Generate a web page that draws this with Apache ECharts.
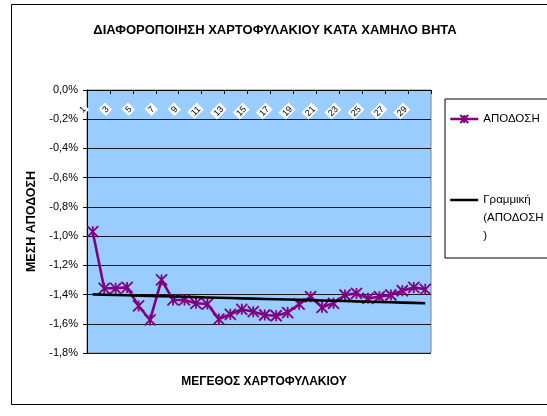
<!DOCTYPE html>
<html>
<head>
<meta charset="utf-8">
<script src="https://cdn.jsdelivr.net/npm/echarts@6/dist/echarts.min.js"></script>
<style>
  html, body { margin: 0; padding: 0; background: #fff; }
  #chart { width: 547px; height: 416px; }
</style>
</head>
<body>
<div id="chart"></div>
<script>
// Portfolio size (number of securities) on the category axis
const portfolioSize = [1, 2, 3, 4, 5, 6, 7, 8, 9, 10, 11, 12, 13, 14, 15,
                       16, 17, 18, 19, 20, 21, 22, 23, 24, 25, 26, 27, 28, 29, 30];
// Mean return (%) for each portfolio size
const meanReturn = [-0.970, -1.357, -1.357, -1.351, -1.478, -1.574, -1.300, -1.437, -1.437, -1.460,
                    -1.465, -1.568, -1.535, -1.501, -1.517, -1.540, -1.545, -1.523, -1.466, -1.415,
                    -1.487, -1.460, -1.403, -1.392, -1.426, -1.415, -1.403, -1.374, -1.351, -1.364];
// Value axis ticks (%)
const yTicks = { min: -1.8, max: 0, step: 0.2 };

const seriesName = 'ΑΠΟΔΟΣΗ';
const trendName = 'Γραμμική\n(ΑΠΟΔΟΣΗ\n)';

// Least-squares linear trend over the category index
function linearTrend(values) {
  const n = values.length;
  let sx = 0, sy = 0, sxx = 0, sxy = 0;
  values.forEach((v, i) => {
    const x = i + 1;
    sx += x; sy += v; sxx += x * x; sxy += x * v;
  });
  const slope = (n * sxy - sx * sy) / (n * sxx - sx * sx);
  const icpt = (sy - slope * sx) / n;
  return values.map((_, i) => +(icpt + slope * (i + 1)).toFixed(4));
}
const trend = linearTrend(meanReturn);

const FONT = '"Liberation Sans", Arial, sans-serif';
const chart = echarts.init(document.getElementById('chart'));

chart.setOption({
  backgroundColor: '#ffffff',
  animation: false,
  textStyle: { fontFamily: FONT },
  title: [
    {
      text: 'ΔΙΑΦΟΡΟΠΟΙΗΣΗ ΧΑΡΤΟΦΥΛΑΚΙΟΥ ΚΑΤΑ ΧΑΜΗΛΟ ΒΗΤΑ',
      left: 270, top: 19, textAlign: 'center',
      textStyle: { fontFamily: FONT, fontSize: 13, fontWeight: 'bold', color: '#000' }
    },
    {
      text: 'ΜΕΓΕΘΟΣ ΧΑΡΤΟΦΥΛΑΚΙΟΥ',
      left: 259, top: 371, textAlign: 'center',
      textStyle: { fontFamily: FONT, fontSize: 12, fontWeight: 'bold', color: '#000' }
    }
  ],
  graphic: [
    {
      type: 'rect', z: -1, silent: true,
      shape: { x: 11.5, y: 4.5, width: 600, height: 400 },
      style: { fill: 'none', stroke: '#000', lineWidth: 1 }
    }
  ],
  legend: {
    orient: 'vertical',
    left: 445, top: 99,
    padding: [11, 40, 13, 4],
    itemGap: 27,
    itemWidth: 28, itemHeight: 10,
    borderColor: '#000', borderWidth: 1,
    backgroundColor: '#fff',
    selectedMode: false,
    lineStyle: { width: 2.5 },
    textStyle: { fontFamily: FONT, fontSize: 11.5, color: '#000', lineHeight: 18 },
    // two blank lines keep the first text line level with the line sample
    formatter: name => (name === trendName ? '\n\n' + name : name),
    data: [
      { name: seriesName },
      { name: trendName, itemStyle: { color: 'rgba(0,0,0,0)', borderWidth: 0, opacity: 0 } }
    ]
  },
  grid: {
    left: 87, top: 90, width: 344, height: 263,
    show: true, backgroundColor: '#99CCFF', borderColor: '#808080', borderWidth: 1
  },
  xAxis: {
    type: 'category',
    position: 'top',
    data: portfolioSize,
    boundaryGap: true,
    axisLine: { show: true, lineStyle: { color: '#000', width: 1 } },
    axisTick: { show: true, inside: true, length: 4, interval: 1, lineStyle: { color: '#000' } },
    axisLabel: {
      interval: 1, inside: true, rotate: 45, margin: 9,
      align: 'right', verticalAlign: 'middle',
      formatter: v => '{t|' + v + '}{s|}',
      rich: {
        t: { fontFamily: FONT, fontSize: 9, color: '#000', backgroundColor: '#fff', padding: [1, 2, 0, 2] },
        s: { width: 10 }
      }
    },
    splitLine: { show: false }
  },
  yAxis: {
    type: 'value',
    min: yTicks.min, max: yTicks.max, interval: yTicks.step,
    name: 'ΜΕΣΗ ΑΠΟΔΟΣΗ',
    nameLocation: 'middle', nameGap: 46, nameRotate: 90,
    nameTextStyle: { fontFamily: FONT, fontSize: 12.5, fontWeight: 'bold', color: '#000' },
    axisLine: { show: true, lineStyle: { color: '#000', width: 1 } },
    axisTick: { show: true, length: 4, lineStyle: { color: '#000' } },
    axisLabel: {
      margin: 9, fontFamily: FONT, fontSize: 11, color: '#000',
      formatter: v => (Math.abs(v) < 1e-9 ? 0 : v).toFixed(1).replace('.', ',') + '%'
    },
    splitLine: { show: true, lineStyle: { color: '#1a1a1a', width: 1 } }
  },
  series: [
    {
      name: seriesName,
      type: 'line',
      data: meanReturn,
      symbol: 'path://M0,0L10,10M10,0L0,10M5,0L5,10',
      symbolSize: 11,
      showAllSymbol: true,
      lineStyle: { color: '#800080', width: 2.6 },
      itemStyle: { color: '#800080', borderColor: '#800080', borderWidth: 1.8 },
      z: 3
    },
    {
      name: trendName,
      type: 'line',
      data: trend,
      symbol: 'none',
      lineStyle: { color: '#000', width: 2.6 },
      itemStyle: { color: '#000' },
      z: 4
    }
  ]
});
</script>
</body>
</html>
